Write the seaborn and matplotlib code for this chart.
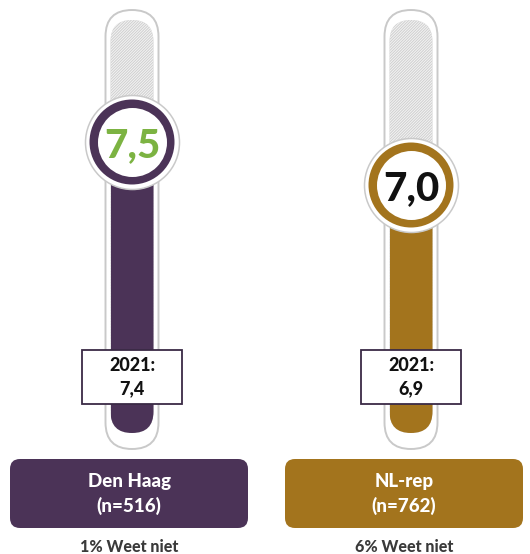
import pandas as pd
import seaborn as sns
import matplotlib.pyplot as plt
from matplotlib.patches import FancyBboxPatch, Rectangle
from matplotlib.transforms import Affine2D

# data
groups = ['Den Haag', 'NL-rep']
sample_sizes = [516, 762]
scores = [7.5, 7.0]
scores_2021 = [7.4, 6.9]
dont_know = [1, 6]
bar_colors = ['#4b3357', '#a3741d']
score_colors = ['#7cb342', '#111111']

W, H = 530, 554
sns.set_theme(style='white')
plt.rcParams['font.family'] = ['Lato', 'DejaVu Sans']
plt.rcParams['hatch.linewidth'] = 0.7

fig = plt.figure(figsize=(W / 100, H / 100), dpi=100)
ax = fig.add_axes([0, 0, 1, 1])

# pixel layout: x=0 -> 132px, 279px per category; score v -> 787 - 86*v (from top)
XS, X0 = 279, 132
YS, Y0 = 86, 787
def v_of(py):
    return (Y0 - py) / YS

# top-left pixel coords -> display
pix = Affine2D().scale(1, -1).translate(0, H)

df = pd.DataFrame({'group': groups, 'score': scores})

aspect = XS / YS
tubes = []
for i in range(len(groups)):
    r = 26.5 / XS
    outer = FancyBboxPatch((i - r, v_of(449)), 2 * r, v_of(10) - v_of(449),
                           boxstyle=f'round,pad=0,rounding_size={r}', mutation_aspect=aspect,
                           facecolor='white', edgecolor='#c9c9c9', lw=1.4, zorder=1)
    ax.add_patch(outer)
    r = 21.5 / XS
    inner = FancyBboxPatch((i - r, v_of(433)), 2 * r, v_of(20) - v_of(433),
                           boxstyle=f'round,pad=0,rounding_size={r}', mutation_aspect=aspect,
                           facecolor='#cfcfcf', edgecolor='#f4f4f4', hatch='/' * 12, lw=0, zorder=1.5)
    ax.add_patch(inner)
    tubes.append(inner)

sns.barplot(data=df, x='group', y='score', hue='group', palette=bar_colors, width=43 / XS,
            saturation=1, legend=False, ax=ax)
for bar, g in zip([b for c in ax.containers for b in c], groups):
    bar.set_zorder(2)
    bar.set_linewidth(0)
    bar.set_clip_path(tubes[groups.index(g)])

ax.set_xlim(-X0 / XS, (W - X0) / XS)
ax.set_ylim(v_of(H), v_of(0))
ax.axis('off')

# score circles
xs = list(range(len(groups)))
ax.scatter(xs, scores, s=(94 * 0.72) ** 2, color='white', edgecolor='#c9c9c9', linewidth=1.1, zorder=3)
ax.scatter(xs, scores, s=(85 * 0.72) ** 2, color=bar_colors, linewidth=0, zorder=3.1)
ax.scatter(xs, scores, s=(69 * 0.72) ** 2, color='white', linewidth=0, zorder=3.2)
for i, v in enumerate(scores):
    ax.text(i, v, f'{v:.1f}'.replace('.', ','), ha='center', va='center_baseline',
            fontsize=29, fontweight='black', color=score_colors[i], zorder=4)

# 2021 boxes
for i, v in enumerate(scores_2021):
    cx = X0 + XS * i
    ax.add_patch(Rectangle((cx - 50, 350), 100, 54, transform=pix, facecolor='white',
                           edgecolor='#3a2a45', lw=1.3, zorder=5))
    ax.text(cx, 377, f'2021:\n{v:.1f}'.replace('.', ','), transform=pix, ha='center', va='center',
            fontsize=13, fontweight='black', color='#111111', linespacing=1.45, zorder=6)

# group labels
label_cx = [129, 404]
for i, g in enumerate(groups):
    cx = label_cx[i]
    ax.add_patch(FancyBboxPatch((cx - 119, 459), 238, 69, boxstyle='round,pad=0,rounding_size=10',
                                transform=pix, facecolor=bar_colors[i], edgecolor='none', zorder=5))
    ax.text(cx, 494, f'{g}\n(n={sample_sizes[i]})', transform=pix, ha='center', va='center',
            fontsize=13.5, fontweight='black', color='white', linespacing=1.45, zorder=6)
    ax.text(cx, 547, f'{dont_know[i]}% Weet niet', transform=pix, ha='center', va='center',
            fontsize=11.5, fontweight='black', color='#3a3a3a', zorder=6)

fig.savefig('out.png', dpi=100)
